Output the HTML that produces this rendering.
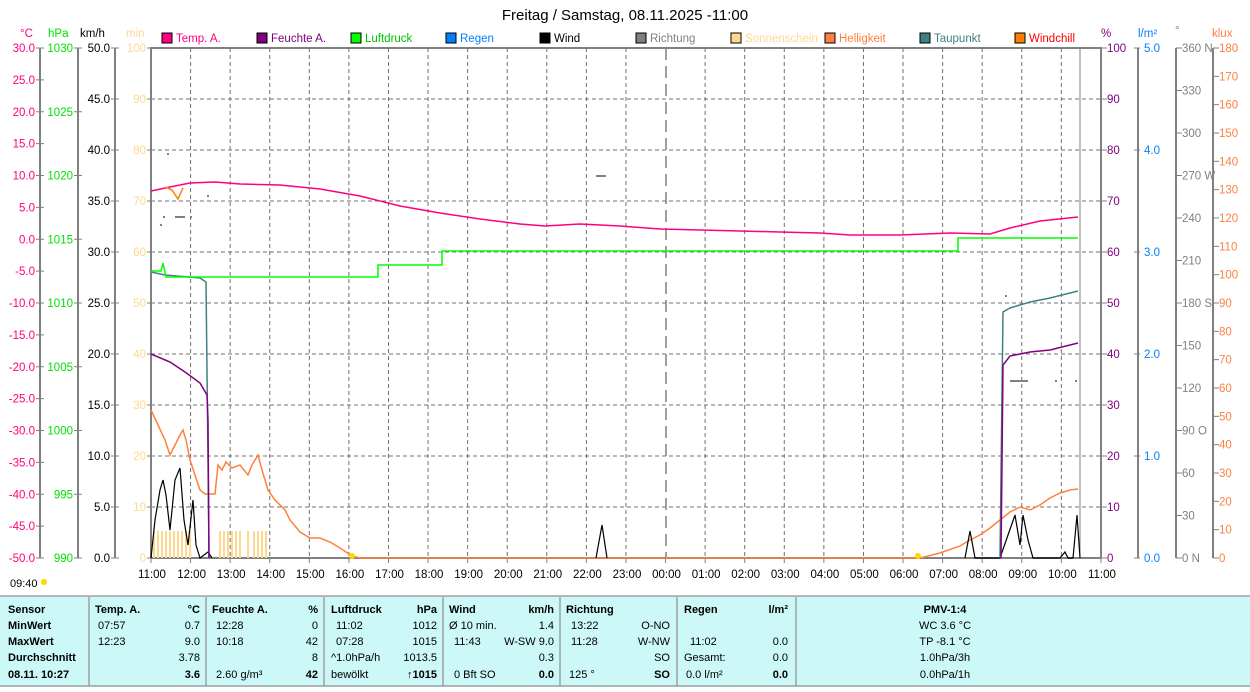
<!DOCTYPE html>
<html><head><meta charset="utf-8"><style>
body{margin:0;background:#fff;width:1250px;height:687px;overflow:hidden;font-family:"Liberation Sans",sans-serif}
svg text{font-family:"Liberation Sans",sans-serif}
</style></head><body>
<svg width="1250" height="687" xmlns="http://www.w3.org/2000/svg">
<text x="625" y="20" font-size="15" text-anchor="middle" fill="#000">Freitag / Samstag, 08.11.2025  -11:00</text>
<g font-size="11.5">
<text x="20" y="37" fill="#ff0080">°C</text><text x="48" y="37" fill="#00e000">hPa</text><text x="80" y="37" fill="#000">km/h</text><text x="126" y="37" fill="#ffd890">min</text>
<rect x="162" y="33" width="10" height="10" fill="#ff0080" stroke="#000"/><text x="176" y="42" fill="#ff0080">Temp. A.</text>
<rect x="257" y="33" width="10" height="10" fill="#800080" stroke="#000"/><text x="271" y="42" fill="#800080">Feuchte A.</text>
<rect x="351" y="33" width="10" height="10" fill="#00ff00" stroke="#000"/><text x="365" y="42" fill="#00c000">Luftdruck</text>
<rect x="446" y="33" width="10" height="10" fill="#0080ff" stroke="#000"/><text x="460" y="42" fill="#0080ff">Regen</text>
<rect x="540" y="33" width="10" height="10" fill="#000" stroke="#000"/><text x="554" y="42" fill="#000">Wind</text>
<rect x="636" y="33" width="10" height="10" fill="#808080" stroke="#000"/><text x="650" y="42" fill="#808080">Richtung</text>
<rect x="731" y="33" width="10" height="10" fill="#ffd890" stroke="#000"/><text x="745" y="42" fill="#ffd890">Sonnenschein</text>
<rect x="825" y="33" width="10" height="10" fill="#ff8040" stroke="#000"/><text x="839" y="42" fill="#ff8040">Helligkeit</text>
<rect x="920" y="33" width="10" height="10" fill="#408080" stroke="#000"/><text x="934" y="42" fill="#408080">Taupunkt</text>
<rect x="1015" y="33" width="10" height="10" fill="#ff8000" stroke="#000"/><text x="1029" y="42" fill="#ff0000">Windchill</text>
<text x="1101" y="37" fill="#800080">%</text><text x="1138" y="37" fill="#0080ff">l/m²</text><text x="1175" y="34" fill="#808080">°</text><text x="1212" y="37" fill="#ff8040">klux</text>
</g>
<g stroke="#808080" stroke-width="2" fill="none">
<line x1="40" y1="48" x2="40" y2="558"/><line x1="78" y1="48" x2="78" y2="558"/><line x1="115" y1="48" x2="115" y2="558"/>
<line x1="1138" y1="48" x2="1138" y2="558"/><line x1="1176" y1="48" x2="1176" y2="558"/><line x1="1213" y1="48" x2="1213" y2="558"/>
<path d="M151 558V48H1101V558"/>
</g>
<g stroke="#707070" stroke-dasharray="4,3" stroke-width="1" id="grid"></g>
<g id="ax" font-size="11.5"></g>
<line x1="151" y1="558" x2="1101" y2="558" stroke="#808080" stroke-width="2"/>
<line x1="666" y1="48" x2="666" y2="558" stroke="#808080" stroke-width="1.5" stroke-dasharray="12,6"/>
<line x1="1080" y1="48" x2="1080" y2="558" stroke="#808080" stroke-width="1"/>
<g fill="#ffd890" id="sun"></g>
<g fill="none" stroke-width="1.5">
<polyline stroke="#ff8040" points="151,410 158,425 165,440 170,455 175,445 180,435 183,430 186,440 190,460 195,475 200,490 205,494 215,494 218,465 222,470 226,462 232,468 240,465 248,475 252,465 258,455 262,470 268,490 275,500 285,510 290,520 300,532 310,538 320,538 330,542 340,548 352,556 360,558 920,558 940,553 960,546 970,540 980,535 990,528 1000,520 1010,512 1020,507 1030,510 1040,505 1050,498 1060,493 1070,490 1078,489"/>
<polyline stroke="#000" stroke-width="1.2" points="151,558 155,520 160,490 163,480 166,495 170,530 175,480 180,468 184,520 188,545 193,500 196,545 200,558 208,552 212,558"/>
<polyline stroke="#000" stroke-width="1.2" points="596,558 602,525 607,558"/>
<polyline stroke="#000" stroke-width="1.2" points="965,558 970,531 975,558 1000,558 1008,535 1015,515 1020,545 1023,515 1028,540 1033,558 1060,558 1065,552 1068,558 1073,558 1077,515 1080,558"/>
<polyline stroke="#408080" points="151,272 165,275 200,278 206,282 208,460 209,558"/>
<polyline stroke="#408080" points="1000,558 1003,312 1010,308 1030,302 1050,298 1078,291"/>
<polyline stroke="#800080" points="151,354 170,362 185,372 200,383 207,395 208,420 209,558"/>
<polyline stroke="#800080" points="1001,558 1003,365 1010,356 1030,352 1050,350 1078,343"/>
<polyline stroke="#00ff00" points="151,271 161,271 163,263 166,277 378,277 378,265 442,265 442,251 958,251 958,238 1078,238"/>
<polyline stroke="#ff0080" points="151,191 170,187 190,183 215,182 240,184 280,185 320,189 360,196 400,206 440,213 480,219 520,224 545,226 580,224 620,226 660,229 700,230 740,231 780,232 820,233 850,235 900,235 950,233 990,234 1010,228 1040,221 1078,217"/>
<polyline stroke="#ff8000" points="165,187 172,190 178,199 183,188"/>
</g>
<g fill="#808080"><rect x="167" y="153" width="2" height="2"/><rect x="160" y="224" width="2" height="2"/><rect x="163" y="216" width="2" height="2"/><rect x="175" y="216" width="10" height="2"/><rect x="190" y="216" width="2" height="2"/><rect x="207" y="195" width="2" height="2"/><rect x="1010" y="380" width="18" height="2"/><rect x="1005" y="295" width="2" height="2"/><rect x="1055" y="380" width="2" height="2"/><rect x="1075" y="380" width="2" height="2"/><rect x="596" y="175" width="10" height="2"/></g>
<circle cx="44" cy="582" r="3" fill="#ffd800"/><text x="10" y="587" font-size="11">09:40</text>
<circle cx="352" cy="556" r="3" fill="#ffd800"/><circle cx="918" cy="556" r="3" fill="#ffd800"/>
<rect x="0" y="596" width="1250" height="91" fill="#ccf8f8"/>
<g stroke="#a0a0a0" stroke-width="1.5"><line x1="0" y1="596" x2="1250" y2="596"/><line x1="0" y1="686" x2="1250" y2="686"/>
<line x1="89" y1="597" x2="89" y2="686"/><line x1="206" y1="597" x2="206" y2="686"/><line x1="324" y1="597" x2="324" y2="686"/><line x1="443" y1="597" x2="443" y2="686"/><line x1="560" y1="597" x2="560" y2="686"/><line x1="677" y1="597" x2="677" y2="686"/><line x1="796" y1="597" x2="796" y2="686"/></g>
<g font-size="11" fill="#000">
<g font-weight="bold"><text x="8" y="613">Sensor</text><text x="8" y="629">MinWert</text><text x="8" y="645">MaxWert</text><text x="8" y="661">Durchschnitt</text><text x="8" y="678">08.11. 10:27</text>
<text x="95" y="613">Temp. A.</text><text x="200" y="613" text-anchor="end">°C</text><text x="212" y="613">Feuchte A.</text><text x="318" y="613" text-anchor="end">%</text><text x="331" y="613">Luftdruck</text><text x="437" y="613" text-anchor="end">hPa</text><text x="449" y="613">Wind</text><text x="554" y="613" text-anchor="end">km/h</text><text x="566" y="613">Richtung</text><text x="684" y="613">Regen</text><text x="788" y="613" text-anchor="end">l/m²</text><text x="945" y="613" text-anchor="middle">PMV-1:4</text>
<text x="200" y="678" text-anchor="end">3.6</text><text x="318" y="678" text-anchor="end">42</text><text x="437" y="678" text-anchor="end">↑1015</text><text x="554" y="678" text-anchor="end">0.0</text><text x="670" y="678" text-anchor="end">SO</text><text x="788" y="678" text-anchor="end">0.0</text></g>
<text x="98" y="629">07:57</text><text x="200" y="629" text-anchor="end">0.7</text><text x="98" y="645">12:23</text><text x="200" y="645" text-anchor="end">9.0</text><text x="200" y="661" text-anchor="end">3.78</text>
<text x="216" y="629">12:28</text><text x="318" y="629" text-anchor="end">0</text><text x="216" y="645">10:18</text><text x="318" y="645" text-anchor="end">42</text><text x="318" y="661" text-anchor="end">8</text><text x="216" y="678">2.60 g/m³</text>
<text x="336" y="629">11:02</text><text x="437" y="629" text-anchor="end">1012</text><text x="336" y="645">07:28</text><text x="437" y="645" text-anchor="end">1015</text><text x="331" y="661">^1.0hPa/h</text><text x="437" y="661" text-anchor="end">1013.5</text><text x="331" y="678">bewölkt</text>
<text x="449" y="629">Ø 10 min.</text><text x="554" y="629" text-anchor="end">1.4</text><text x="454" y="645">11:43</text><text x="554" y="645" text-anchor="end">W-SW 9.0</text><text x="554" y="661" text-anchor="end">0.3</text><text x="454" y="678">0 Bft SO</text>
<text x="571" y="629">13:22</text><text x="670" y="629" text-anchor="end">O-NO</text><text x="571" y="645">11:28</text><text x="670" y="645" text-anchor="end">W-NW</text><text x="670" y="661" text-anchor="end">SO</text><text x="569" y="678">125 °</text>
<text x="690" y="645">11:02</text><text x="788" y="645" text-anchor="end">0.0</text><text x="684" y="661">Gesamt:</text><text x="788" y="661" text-anchor="end">0.0</text><text x="686" y="678">0.0 l/m²</text>
<text x="945" y="629" text-anchor="middle">WC 3.6 °C</text><text x="945" y="645" text-anchor="middle">TP -8.1 °C</text><text x="945" y="661" text-anchor="middle">1.0hPa/3h</text><text x="945" y="678" text-anchor="middle">0.0hPa/1h</text>
</g>
</svg>
<script>
var NS="http://www.w3.org/2000/svg";
function el(p,t,a,txt){var e=document.createElementNS(NS,t);for(var k in a)e.setAttribute(k,a[k]);if(txt!==undefined)e.textContent=txt;p.appendChild(e);return e;}
var g=document.getElementById("grid"),ax=document.getElementById("ax"),sun=document.getElementById("sun");
for(var i=1;i<10;i++){var y=48+51*i;el(g,"line",{x1:151,y1:y,x2:1101,y2:y});}
var labs=["11:00","12:00","13:00","14:00","15:00","16:00","17:00","18:00","19:00","20:00","21:00","22:00","23:00","00:00","01:00","02:00","03:00","04:00","05:00","06:00","07:00","08:00","09:00","10:00","11:00"];
for(var h=0;h<25;h++){var x=151+h*39.58;if(h>0&&h<24&&h!=13)el(g,"line",{x1:x,y1:48,x2:x,y2:558});
el(ax,"line",{x1:x,y1:558,x2:x,y2:563,stroke:"#808080"});el(ax,"text",{x:x+1,y:578,"text-anchor":"middle",fill:"#000"},labs[h]);}
function axis(xl,xt,n,top,step,dec,col,suf,len){for(var i=0;i<=n;i++){var y=48+510*i/n;var v=top-step*i;var s=dec?v.toFixed(dec):String(v);
el(ax,"line",{x1:xt,y1:y,x2:xt+len,y2:y,stroke:"#808080"});el(ax,"text",{x:xl,y:y+4,"text-anchor":"end",fill:col},s+(suf?suf(i):""));}}
axis(35,36,16,30,5,1,"#ff0080",null,8);
axis(73,74,8,1030,5,0,"#00e000",null,8);
axis(110,111,10,50,5,1,"#000",null,8);
axis(146,147,10,100,10,0,"#ffd890",null,6);
function raxis(xl,xt,n,top,step,dec,col,suf){for(var i=0;i<=n;i++){var y=48+510*i/n;var v=top-step*i;var s=dec?v.toFixed(dec):String(v);
el(ax,"line",{x1:xt,y1:y,x2:xt+6,y2:y,stroke:"#808080"});el(ax,"text",{x:xl,y:y+4,fill:col},s+(suf?suf(i):""));}}
raxis(1107,1101,10,100,10,0,"#800080");
raxis(1144,1134,5,5,1,1,"#0080ff");
var dir={0:" N",3:" W",6:" S",9:" O",12:" N"};
raxis(1182,1176,12,360,30,0,"#808080",function(i){return dir[i]||"";});
raxis(1219,1213,18,180,10,0,"#ff8040");
var sx=[153,157,161,165,169,173,177,181,185,189,219,223,227,231,235,239,247,253,257,261,265];
sx.forEach(function(x){el(sun,"rect",{x:x,y:531,width:2,height:27});});
</script>
</body></html>
